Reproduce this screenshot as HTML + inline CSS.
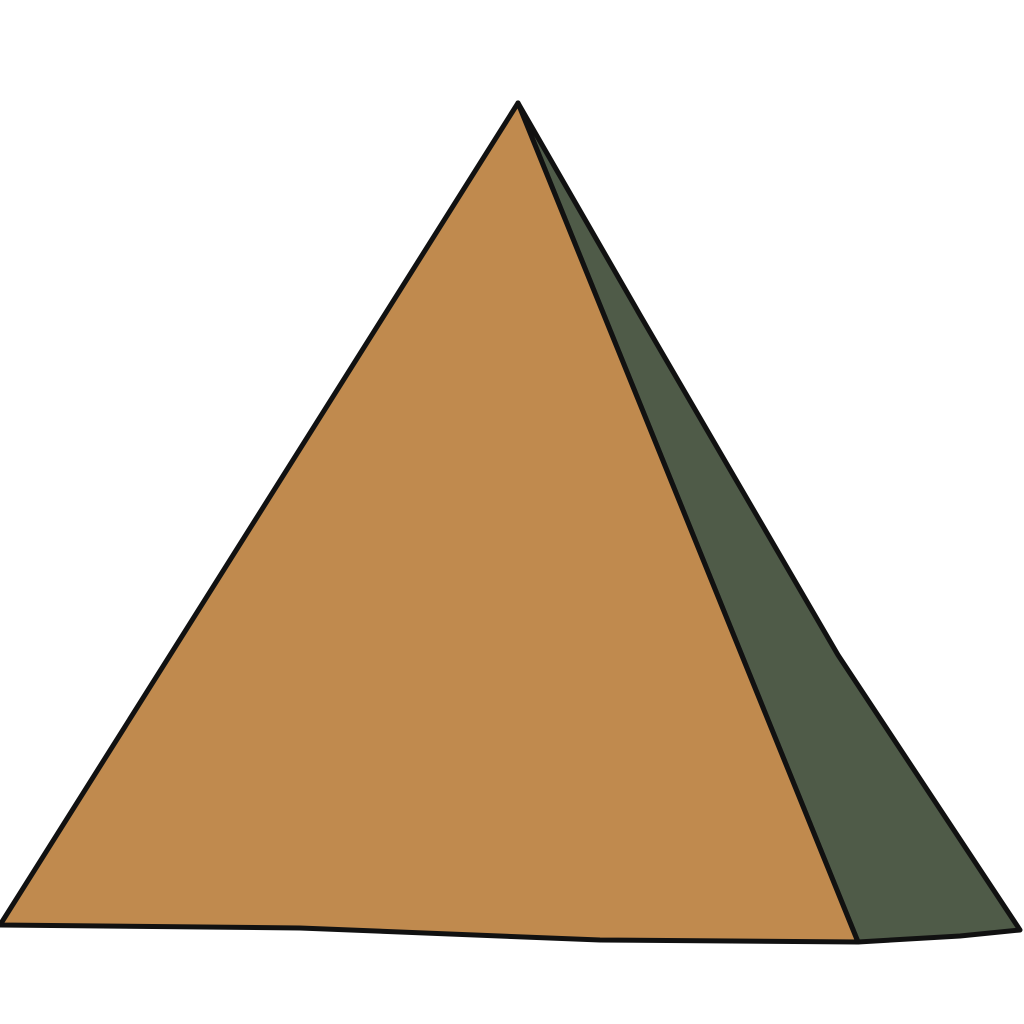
<!DOCTYPE html>
<html><head><meta charset="utf-8"><style>html,body{margin:0;padding:0;background:#fff}svg{display:block}</style></head>
<body>
<svg width="1024" height="1024" viewBox="0 0 1024 1024" xmlns="http://www.w3.org/2000/svg">
<rect width="1024" height="1024" fill="#ffffff"/>
<polygon points="518,103 640,315 838,655 1020,930 960,936 858,942" fill="#4f5b48" stroke="#111" stroke-width="5" stroke-linejoin="round"/>
<polygon points="518,103 858,942 600,940 300,928 0,925" fill="#c08a4e" stroke="#111" stroke-width="5" stroke-linejoin="round"/>
</svg>
</body></html>
